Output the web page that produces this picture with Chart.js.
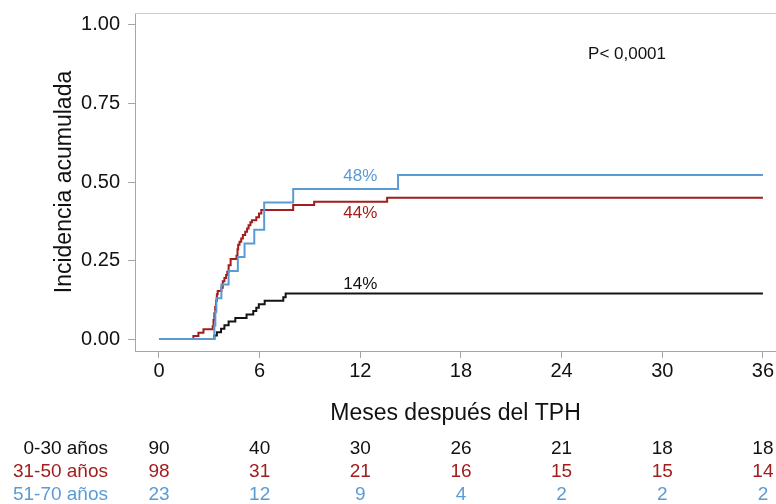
<!DOCTYPE html>
<html>
<head>
<meta charset="utf-8">
<script src="https://cdn.jsdelivr.net/npm/chart.js@4/dist/chart.umd.min.js"></script>
<style>
  html, body { margin: 0; padding: 0; background: #ffffff; }
  #c { display: block; }
</style>
</head>
<body>
<canvas id="c" width="776" height="504"></canvas>
<script>
// ---- data ----
const xTicks = [0, 6, 12, 18, 24, 30, 36];
const yTicks = [0, 0.25, 0.5, 0.75, 1];
const groups = ['0-30 años', '31-50 años', '51-70 años'];

const time030 = [0, 3.3, 3.45, 3.7, 3.9, 4.15, 4.55, 5.22, 5.62, 5.8, 5.95, 6.3, 7.41, 7.55, 36];
const cif030  = [0, 0.011, 0.022, 0.033, 0.044, 0.056, 0.067, 0.078, 0.089, 0.100, 0.111, 0.122, 0.133, 0.145, 0.145];

const time3150 = [0, 2.05, 2.35, 2.65, 3.2, 3.25, 3.3, 3.35, 3.4, 3.45, 3.5, 3.72, 3.8, 3.9, 4.0, 4.07, 4.15, 4.27, 4.62, 4.68, 4.72, 4.8, 4.9, 5.0, 5.14, 5.25, 5.34, 5.45, 5.54, 5.8, 5.96, 6.1, 8.0, 9.25, 13.6, 36];
const cif3150  = [0, 0.010, 0.020, 0.031, 0.041, 0.061, 0.082, 0.102, 0.122, 0.143, 0.153, 0.163, 0.184, 0.194, 0.204, 0.214, 0.235, 0.255, 0.265, 0.286, 0.300, 0.310, 0.320, 0.331, 0.342, 0.352, 0.362, 0.372, 0.378, 0.388, 0.400, 0.411, 0.427, 0.437, 0.450, 0.450];

const time5170 = [0, 3.3, 3.36, 3.42, 3.72, 4.15, 4.7, 5.1, 5.68, 6.27, 8.0, 14.25, 36];
const cif5170  = [0, 0.043, 0.087, 0.130, 0.174, 0.217, 0.261, 0.304, 0.348, 0.435, 0.478, 0.522, 0.522];

const atRisk030  = [90, 40, 30, 26, 21, 18, 18];
const atRisk3150 = [98, 31, 21, 16, 15, 15, 14];
const atRisk5170 = [23, 12, 9, 4, 2, 2, 2];

const curveLabels = ['14%', '44%', '48%'];
const curveLabelValues = [0.175, 0.401, 0.519];
const pValueText = 'P< 0,0001';

// ---- styling ----
const FONT = '"Liberation Sans", Arial, Helvetica, sans-serif';
const colors = ['#141414', '#a21d1c', '#5a9bd6'];
const textColors = ['#111111', '#a21d1c', '#5a9bd6'];
const axisGray = '#a6a6a6';
const frameGray = '#cfcfcf';

function pts(t, v) { return t.map((x, i) => ({ x: x, y: v[i] })); }

const seriesTimes = [time030, time3150, time5170];
const seriesCif = [cif030, cif3150, cif5170];
const atRiskRows = [atRisk030, atRisk3150, atRisk5170];

const datasets = groups.map((g, i) => ({
  label: g,
  data: pts(seriesTimes[i], seriesCif[i]),
  borderColor: colors[i],
  backgroundColor: colors[i],
  borderWidth: 2,
  stepped: 'before',
  pointRadius: 0,
  fill: false,
  order: 3 - i
}));

const extras = {
  id: 'extras',
  afterDraw(chart) {
    const ctx = chart.ctx;
    const xs = chart.scales.x, ys = chart.scales.y;
    const ca = chart.chartArea;
    ctx.save();
    // top frame line
    ctx.strokeStyle = frameGray;
    ctx.lineWidth = 1;
    ctx.beginPath();
    ctx.moveTo(ca.left, Math.round(ca.top) + 0.5);
    ctx.lineTo(chart.width, Math.round(ca.top) + 0.5);
    ctx.stroke();

    // curve end labels
    ctx.font = '17px ' + FONT;
    ctx.textAlign = 'center';
    ctx.textBaseline = 'middle';
    curveLabels.forEach((t, i) => {
      ctx.fillStyle = textColors[i];
      ctx.fillText(t, xs.getPixelForValue(12), ys.getPixelForValue(curveLabelValues[i]));
    });
    // p-value
    ctx.fillStyle = '#111111';
    ctx.fillText(pValueText, xs.getPixelForValue(27.9), ys.getPixelForValue(0.905));

    // risk table
    ctx.font = '19px ' + FONT;
    const rowY = [449, 472, 495];
    atRiskRows.forEach((row, r) => {
      ctx.fillStyle = textColors[r];
      ctx.textAlign = 'right';
      ctx.fillText(groups[r], 108, rowY[r]);
      ctx.textAlign = 'center';
      row.forEach((n, k) => {
        ctx.fillText(String(n), xs.getPixelForValue(xTicks[k]), rowY[r]);
      });
    });
    ctx.restore();
  }
};

new Chart(document.getElementById('c'), {
  type: 'line',
  data: { datasets: datasets },
  options: {
    responsive: false,
    animation: false,
    devicePixelRatio: 1,
    layout: { padding: { top: 13, right: 0, bottom: 69, left: 0 } },
    plugins: { legend: { display: false }, tooltip: { enabled: false } },
    scales: {
      x: {
        type: 'linear',
        min: -1.43,
        max: 36.78,
        afterBuildTicks: s => { s.ticks = xTicks.map(v => ({ value: v })); },
        afterFit: s => { s.height = 84; },
        grid: { display: true, drawOnChartArea: false, drawTicks: true, tickLength: 7, color: axisGray },
        border: { display: true, color: axisGray, width: 1 },
        ticks: { color: '#111111', font: { family: FONT, size: 20 }, padding: 1, maxRotation: 0, autoSkip: false },
        title: { display: true, text: 'Meses después del TPH', color: '#111111', font: { family: FONT, size: 23 }, padding: { top: 0, bottom: 8 } }
      },
      y: {
        type: 'linear',
        min: -0.038,
        max: 1.038,
        afterBuildTicks: s => { s.ticks = yTicks.map(v => ({ value: v })); },
        afterFit: s => { s.width = 135; s.paddingTop = 0; s.paddingBottom = 0; },
        grid: { display: true, drawOnChartArea: false, drawTicks: true, tickLength: 7, color: axisGray },
        border: { display: true, color: axisGray, width: 1 },
        ticks: { color: '#111111', font: { family: FONT, size: 20 }, padding: 8, callback: v => v.toFixed(2) },
        title: { display: true, text: 'Incidencia acumulada', color: '#111111', font: { family: FONT, size: 23 }, padding: { top: 51, bottom: 0 } }
      }
    }
  },
  plugins: [extras]
});
</script>
</body>
</html>
